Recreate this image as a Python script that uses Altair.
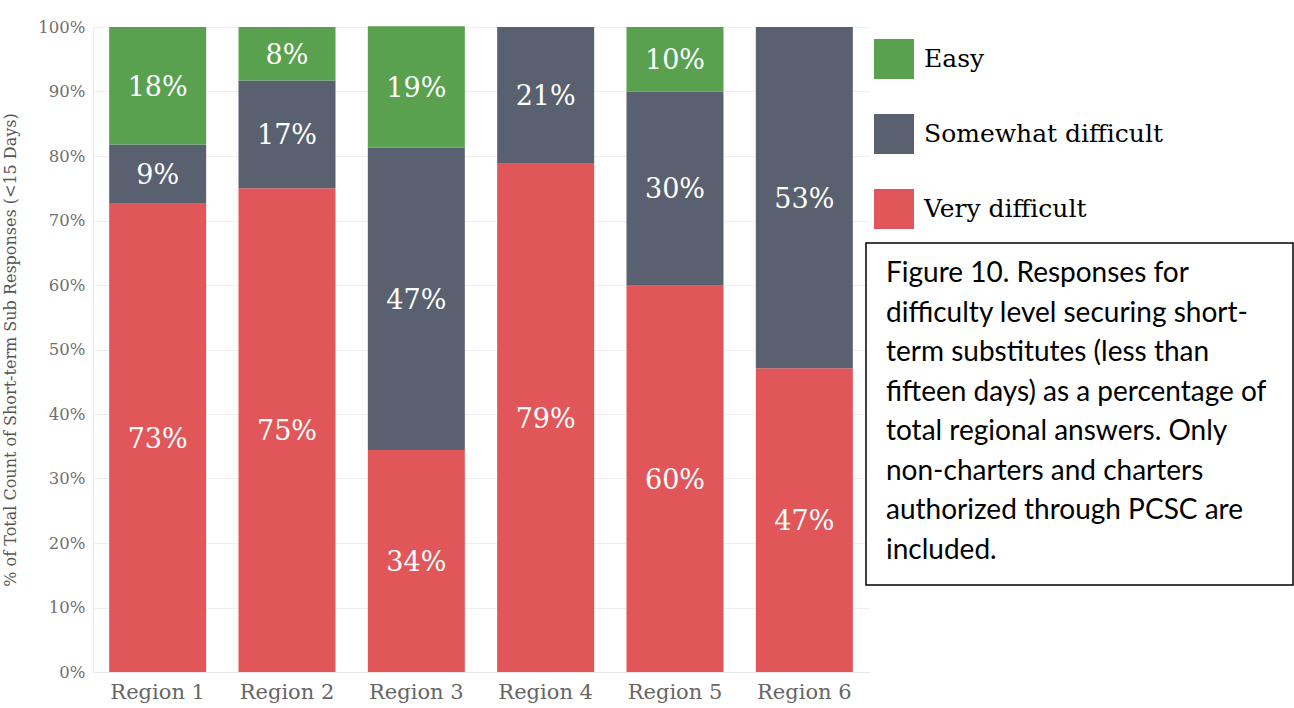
import altair as alt
import pandas as pd

regions = ["Region 1", "Region 2", "Region 3", "Region 4", "Region 5", "Region 6"]
categories = ["Easy", "Somewhat difficult", "Very difficult"]
colors = ["#59A14F", "#596170", "#E15759"]
very_difficult = [72.7, 75.0, 34.4, 78.9, 60.0, 47.1]
somewhat_difficult = [9.1, 16.7, 46.9, 21.1, 30.0, 52.9]
easy = [18.2, 8.3, 18.8, 0.0, 10.0, 0.0]
y_ticks = [0, 10, 20, 30, 40, 50, 60, 70, 80, 90, 100]
y_title = "% of Total Count of Short-term Sub Responses (<15 Days)"
caption_lines = [
    "Figure 10. Responses for",
    "difficulty level securing short-",
    "term substitutes (less than",
    "fifteen days) as a percentage of",
    "total regional answers. Only",
    "non-charters and charters",
    "authorized through PCSC are",
    "included.",
]

rows = []
for i, r in enumerate(regions):
    for cat, vals, o in [("Very difficult", very_difficult, 0),
                         ("Somewhat difficult", somewhat_difficult, 1),
                         ("Easy", easy, 2)]:
        if vals[i] > 0:
            rows.append({"region": r, "cat": cat, "pct": vals[i], "ord": o})
df = pd.DataFrame(rows)

SERIF = "DejaVu Serif"

base = (
    alt.Chart(df)
    .transform_stack(stack="pct", as_=["y0", "y1"], groupby=["region"],
                     sort=[alt.SortField("ord", order="ascending")])
    .transform_calculate(mid="(datum.y0 + datum.y1) / 2",
                         label="round(datum.pct) + '%'")
)

xenc = alt.X("region:N", sort=regions,
             scale=alt.Scale(paddingInner=0.25, paddingOuter=0.125),
             axis=alt.Axis(title=None, labelAngle=0, labelFontSize=21, labelFont=SERIF,
                           labelColor="#666666", ticks=False, domainColor="#e8e8e8",
                           labelPadding=9))

bars = base.mark_bar().encode(
    x=xenc,
    y=alt.Y("y0:Q", scale=alt.Scale(domain=[0, 100], nice=False),
            axis=alt.Axis(values=y_ticks, labelExpr="datum.value + '%'", grid=True,
                          gridColor="#efefef", domainColor="#e8e8e8", ticks=False,
                          labelFontSize=16.5, labelFont=SERIF, labelColor="#707070",
                          labelPadding=8, title=y_title, titleFont=SERIF,
                          titleFontSize=16, titleFontWeight="normal",
                          titleColor="#555555", titleX=-75)),
    y2="y1:Q",
    color=alt.Color("cat:N", scale=alt.Scale(domain=categories, range=colors),
                    legend=alt.Legend(orient="none", legendX=781, legendY=12, title=None,
                                      symbolType="square", symbolSize=1600,
                                      symbolStrokeWidth=0, labelFontSize=25,
                                      labelFont=SERIF, labelColor="black",
                                      rowPadding=35, labelOffset=10, direction="vertical",
                                      labelLimit=400)),
)

texts = base.mark_text(color="white", fontSize=27, font=SERIF, baseline="middle",
                       dy=2).encode(
    x=alt.X("region:N", sort=regions),
    y=alt.Y("mid:Q"),
    text="label:N",
)

box = alt.Chart(pd.DataFrame({"a": [0]})).mark_rect(
    fill="white", stroke="black", strokeWidth=1.5
).encode(x=alt.value(773), x2=alt.value(1200), y=alt.value(216), y2=alt.value(558))

caption = alt.Chart(pd.DataFrame({"t": ["\n".join(caption_lines)]})).mark_text(
    align="left", baseline="alphabetic", font="Lato", fontSize=28, color="black",
    lineBreak="\n", lineHeight=39.5
).encode(x=alt.value(793), y=alt.value(255), text="t:N")

chart = (
    alt.layer(bars, texts, box, caption)
    .properties(width=776, height=645,
                autosize=alt.AutoSizeParams(type="none"),
                padding={"left": 93, "top": 27, "right": 425, "bottom": 36})
    .configure_view(stroke=None)
)

chart.save("out.html", embed_options={"renderer": "svg", "actions": False})
